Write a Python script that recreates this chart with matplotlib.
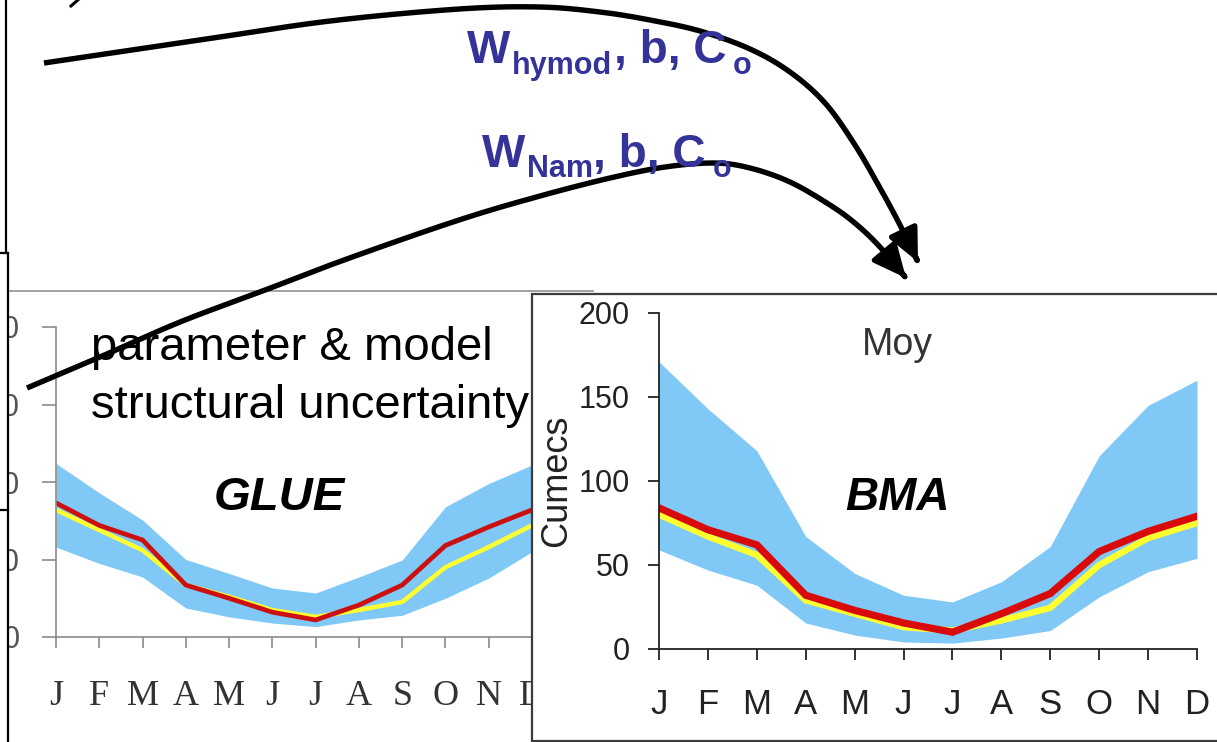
import numpy as np
import matplotlib
matplotlib.use("Agg")
import matplotlib.pyplot as plt
from matplotlib.path import Path
from matplotlib.patches import FancyArrowPatch, Rectangle

plt.rcParams['font.family'] = ['Liberation Sans', 'DejaVu Sans']

# ---- data -------------------------------------------------------------
months = ["J", "F", "M", "A", "M", "J", "J", "A", "S", "O", "N", "D"]
yticks = [0, 50, 100, 150, 200]

# GLUE: parameter & model structural uncertainty
glue_lower = [58, 47.5, 38.7, 18.7, 13, 9, 6.7, 11, 14, 25, 38, 55]
glue_upper = [112, 93, 75.5, 50, 41, 31.6, 28.4, 38.7, 49.7, 84, 99, 111]
glue_obs = [82, 69, 56, 33.5, 26, 17.4, 13, 17.4, 22.6, 45, 58, 72]
glue_sim = [86.5, 72, 62.6, 33.5, 25, 16, 11, 20.6, 33.5, 59, 71, 82]

# BMA (Moy catchment)
bma_lower = [59, 47, 38, 15.5, 8.3, 4.2, 3.5, 6.5, 11, 31, 46, 54]
bma_upper = [171, 143, 118, 67, 45, 32, 28, 40, 61, 115, 145, 160]
bma_obs = [80, 67, 56, 29, 21, 13, 11, 17, 24.5, 50, 66, 75]
bma_sim = [84, 71, 62, 32, 23, 15.5, 10, 21, 33, 58, 70, 79]

BAND = "#80c8f6"
RED = "#d80a0a"
YELLOW = "#ffff30"
BLUE = "#333399"

W, H = 1217, 742
fig = plt.figure(figsize=(W / 100, H / 100), dpi=100)


def px_rect(x0, y0, x1, y1):
    return [x0 / W, 1 - y1 / H, (x1 - x0) / W, (y1 - y0) / H]


x = np.arange(12)

# ---- GLUE panel (partly hidden behind the BMA panel) --------------------
ax_g = fig.add_axes(px_rect(56, 327, 532, 637), zorder=1)
ax_g.set_facecolor("none")
ax_g.fill_between(x, glue_lower, glue_upper, color=BAND, lw=0)
ax_g.plot(x, glue_obs, color=YELLOW, lw=3.2, solid_joinstyle="miter")
ax_g.plot(x, glue_sim, color="#cc1010", lw=3.4, solid_joinstyle="miter")
ax_g.set_xlim(0, (532 - 56) / 45.1)
ax_g.set_ylim(0, 200)
for s in ("top", "right"):
    ax_g.spines[s].set_visible(False)
for s in ("left", "bottom"):
    ax_g.spines[s].set_color("#8a8a8a")
    ax_g.spines[s].set_linewidth(1.2)
ax_g.set_xticks(x)
ax_g.set_xticklabels(months, family="Liberation Serif", fontsize=26, color="#333333")
ax_g.set_yticks(yticks)
ax_g.set_yticklabels([str(v) for v in yticks], fontsize=22, color="#555555")
ax_g.tick_params(axis="x", direction="out", length=8, width=1.2, color="#8a8a8a", pad=23)
ax_g.tick_params(axis="y", direction="out", length=10, width=1.2, color="#8a8a8a", pad=16)

# ---- overlay in pixel coordinates: frames and cover ---------------------
ax_c = fig.add_axes([0, 0, 1, 1], zorder=2)
ax_c.set_xlim(0, W)
ax_c.set_ylim(H, 0)
ax_c.axis("off")
ax_c.set_facecolor("none")
# white strip that crops the GLUE tick labels
ax_c.add_patch(Rectangle((0, 253), 7, H - 253, facecolor="white", edgecolor="none"))
# frame line on top of the GLUE panel
ax_c.plot([8, 593], [291, 291], color="#9a9a9a", lw=1.3)
# slide frames on the left edge
ax_c.plot([6, 6], [0, 253], color="black", lw=1.6)
ax_c.plot([0, 7.5], [253, 253], color="black", lw=1.6)
ax_c.plot([7.5, 7.5], [253, H], color="black", lw=1.6)
ax_c.plot([0, 7.5], [510, 510], color="black", lw=1.6)
ax_c.plot([71, 79], [6, -1], color="black", lw=2.2)
# BMA panel box
ax_c.add_patch(Rectangle((532, 294), W - 532 + 10, 447, facecolor="white",
                         edgecolor="#3c3c3c", lw=1.6))

# ---- BMA panel ------------------------------------------------------------
ax_b = fig.add_axes(px_rect(659, 313, 1197, 649), zorder=3)
ax_b.set_facecolor("none")
ax_b.fill_between(x, bma_lower, bma_upper, color=BAND, lw=0)
ax_b.plot(x, bma_obs, color=YELLOW, lw=4.6, solid_joinstyle="miter")
ax_b.plot(x, bma_sim, color=RED, lw=5.2, solid_joinstyle="miter")
ax_b.set_xlim(0, 11)
ax_b.set_ylim(0, 200)
for s in ("top", "right"):
    ax_b.spines[s].set_visible(False)
for s in ("left", "bottom"):
    ax_b.spines[s].set_color("#222222")
    ax_b.spines[s].set_linewidth(1.3)
ax_b.set_xticks(x)
ax_b.set_xticklabels(months, fontsize=25, color="#222222")
ax_b.set_yticks(yticks)
ax_b.set_yticklabels([str(v) for v in yticks], fontsize=22, color="#222222")
ax_b.tick_params(axis="x", direction="out", length=8, width=1.3, color="#222222", pad=20)
ax_b.tick_params(axis="y", direction="out", length=8, width=1.3, color="#222222", pad=13)
ax_b.set_ylabel("Cumecs", fontsize=26, color="#222222", labelpad=3)

# ---- top overlay: labels and arrows ----------------------------------------
ax_t = fig.add_axes([0, 0, 1, 1], zorder=4)
ax_t.set_xlim(0, W)
ax_t.set_ylim(H, 0)
ax_t.axis("off")
ax_t.set_facecolor("none")

ax_t.text(862, 355, "Moy", fontsize=27, color="#333333", va="baseline")
ax_t.text(845, 510, "BMA", fontsize=33, weight="bold", style="italic",
          color="black", va="baseline")
ax_t.text(91, 360, "parameter & model", fontsize=34, color="black", va="baseline")
ax_t.text(91, 418, "structural uncertainty", fontsize=34, color="black", va="baseline")
ax_t.text(214, 510, "GLUE", fontsize=34, weight="bold", style="italic",
          color="black", va="baseline")


# parameter labels: main glyphs and subscripts
def blue(xp, yp, s, size):
    ax_t.text(xp, yp, s, fontsize=size, weight="bold", color=BLUE, va="baseline")


blue(467, 63, "W", 33)
blue(512, 74, "hymod", 22)
blue(614, 63, ", b, C", 33)
blue(733, 74, "o", 22)

blue(482, 167, "W", 33)
blue(527, 177, "Nam", 22)
blue(593, 167, ", b, C", 33)
blue(713, 177, "o", 22)


def smooth_path(pts, n=24):
    pts = np.asarray(pts, float)
    ext = np.vstack([2 * pts[0] - pts[1], pts, 2 * pts[-1] - pts[-2]])
    out = []
    for i in range(1, len(ext) - 2):
        p0, p1, p2, p3 = ext[i - 1], ext[i], ext[i + 1], ext[i + 2]
        for t in np.linspace(0, 1, n, endpoint=False):
            t2, t3 = t * t, t * t * t
            out.append(0.5 * ((2 * p1) + (-p0 + p2) * t
                              + (2 * p0 - 5 * p1 + 4 * p2 - p3) * t2
                              + (-p0 + 3 * p1 - 3 * p2 + p3) * t3))
    out.append(pts[-1])
    return Path(np.array(out))


upper_route = [(44, 63), (200, 40), (330, 21), (459, 9), (540, 7), (600, 12),
               (650, 20), (700, 31), (750, 49), (790, 72), (825, 103),
               (855, 145), (880, 188), (900, 225), (918, 262)]
lower_route = [(27, 388), (100, 357), (180, 322), (260, 292), (344, 260),
               (459, 220), (540, 196), (610, 178), (665, 167), (714, 163),
               (750, 168), (790, 182), (830, 205), (856, 224), (880, 247),
               (906, 278)]
for route in (upper_route, lower_route):
    arr = FancyArrowPatch(path=smooth_path(route),
                          arrowstyle="-|>,head_length=0.9,head_width=0.42",
                          mutation_scale=22, lw=3.9, color="black",
                          joinstyle="round", capstyle="butt",
                          transform=ax_t.transData)
    ax_t.add_patch(arr)

fig.savefig("out.png", dpi=100)
